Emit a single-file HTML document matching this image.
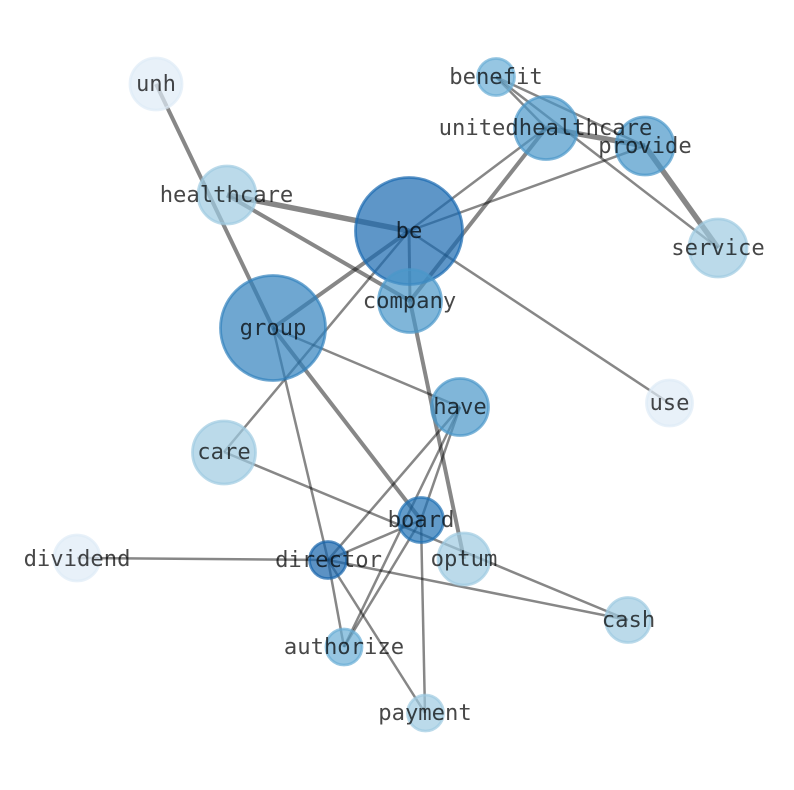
<!DOCTYPE html>
<html>
<head>
<meta charset="utf-8">
<style>
html,body{margin:0;padding:0;background:#fff;width:794px;height:790px;overflow:hidden}
svg{display:block}
text{font-family:"DejaVu Sans Mono","Liberation Mono",monospace;font-size:22.2px;fill:#000;fill-opacity:.72;text-anchor:middle}
line{stroke:#000;stroke-opacity:.47;stroke-linecap:butt}
circle{stroke-width:2.8;fill-opacity:.7;stroke-opacity:.7}
</style>
</head>
<body>
<svg width="794" height="790" viewBox="0 0 794 790" xmlns="http://www.w3.org/2000/svg">
<g>
<line x1="156" y1="84" x2="273" y2="328" stroke-width="4"/>
<line x1="227" y1="195" x2="409" y2="231" stroke-width="5.5"/>
<line x1="227" y1="195" x2="410" y2="301" stroke-width="4"/>
<line x1="409" y1="231" x2="273" y2="328" stroke-width="4"/>
<line x1="409" y1="231" x2="224" y2="452" stroke-width="2.5"/>
<line x1="409" y1="231" x2="546" y2="128" stroke-width="2.5"/>
<line x1="409" y1="231" x2="645" y2="146" stroke-width="2.5"/>
<line x1="409" y1="231" x2="669" y2="403" stroke-width="2.5"/>
<line x1="409" y1="231" x2="410" y2="301" stroke-width="3"/>
<line x1="410" y1="301" x2="546" y2="128" stroke-width="4"/>
<line x1="410" y1="301" x2="464" y2="559" stroke-width="4"/>
<line x1="273" y1="328" x2="460" y2="407" stroke-width="2.5"/>
<line x1="273" y1="328" x2="421" y2="520" stroke-width="4"/>
<line x1="273" y1="328" x2="328" y2="560" stroke-width="2.5"/>
<line x1="496" y1="77" x2="546" y2="128" stroke-width="2.5"/>
<line x1="496" y1="77" x2="645" y2="146" stroke-width="2.5"/>
<line x1="496" y1="77" x2="718" y2="248" stroke-width="2.5"/>
<line x1="546" y1="128" x2="645" y2="146" stroke-width="5.5"/>
<line x1="645" y1="146" x2="718" y2="248" stroke-width="5.5"/>
<line x1="460" y1="407" x2="328" y2="560" stroke-width="2.5"/>
<line x1="460" y1="407" x2="344" y2="647" stroke-width="2.5"/>
<line x1="460" y1="407" x2="421" y2="520" stroke-width="2.5"/>
<line x1="421" y1="520" x2="344" y2="647" stroke-width="2.5"/>
<line x1="421" y1="520" x2="328" y2="560" stroke-width="2.5"/>
<line x1="421" y1="520" x2="425" y2="713" stroke-width="2.5"/>
<line x1="224" y1="452" x2="628" y2="620" stroke-width="2.5"/>
<line x1="328" y1="560" x2="628" y2="620" stroke-width="2.5"/>
<line x1="328" y1="560" x2="77" y2="558" stroke-width="2.5"/>
<line x1="328" y1="560" x2="344" y2="647" stroke-width="2.5"/>
<line x1="328" y1="560" x2="425" y2="713" stroke-width="2.5"/>
</g>
<g>
<circle cx="156" cy="84" r="26" fill="#deebf7" stroke="#deebf7"/>
<circle cx="77" cy="558" r="23" fill="#deebf7" stroke="#deebf7"/>
<circle cx="669.500" cy="403" r="23" fill="#deebf7" stroke="#deebf7"/>
<circle cx="496" cy="77" r="18.500" fill="#6aaed6" stroke="#6aaed6"/>
<circle cx="546" cy="128" r="31.500" fill="#4a97c9" stroke="#4a97c9"/>
<circle cx="645" cy="146" r="29" fill="#4a97c9" stroke="#4a97c9"/>
<circle cx="718" cy="248" r="29" fill="#9ecae1" stroke="#9ecae1"/>
<circle cx="227" cy="195" r="29" fill="#9ecae1" stroke="#9ecae1"/>
<circle cx="409" cy="231" r="53.500" fill="#196ab0" stroke="#196ab0"/>
<circle cx="410" cy="301" r="31.500" fill="#4a97c9" stroke="#4a97c9"/>
<circle cx="273" cy="328" r="52.500" fill="#3282be" stroke="#3282be"/>
<circle cx="460" cy="407" r="28.500" fill="#4a97c9" stroke="#4a97c9"/>
<circle cx="224" cy="452.500" r="31.500" fill="#9ecae1" stroke="#9ecae1"/>
<circle cx="421" cy="520" r="22.500" fill="#2070b4" stroke="#2070b4"/>
<circle cx="464" cy="559" r="26" fill="#9ecae1" stroke="#9ecae1"/>
<circle cx="328" cy="560" r="18.500" fill="#1764ab" stroke="#1764ab"/>
<circle cx="628" cy="620" r="22.500" fill="#9ecae1" stroke="#9ecae1"/>
<circle cx="344" cy="647" r="18" fill="#6aaed6" stroke="#6aaed6"/>
<circle cx="425.500" cy="713" r="18" fill="#9ecae1" stroke="#9ecae1"/>
</g>
<g>
<text x="156" y="91">unh</text>
<text x="496" y="84">benefit</text>
<text x="545.500" y="135">unitedhealthcare</text>
<text x="645" y="153">provide</text>
<text x="718" y="255">service</text>
<text x="226.500" y="202">healthcare</text>
<text x="409" y="238">be</text>
<text x="409.500" y="308">company</text>
<text x="273" y="335">group</text>
<text x="460" y="414">have</text>
<text x="669.500" y="410">use</text>
<text x="224" y="459">care</text>
<text x="421" y="527">board</text>
<text x="464" y="566">optum</text>
<text x="328.500" y="567">director</text>
<text x="77" y="566">dividend</text>
<text x="628.500" y="627">cash</text>
<text x="344" y="654">authorize</text>
<text x="425" y="720">payment</text>
</g>
</svg>
</body>
</html>
